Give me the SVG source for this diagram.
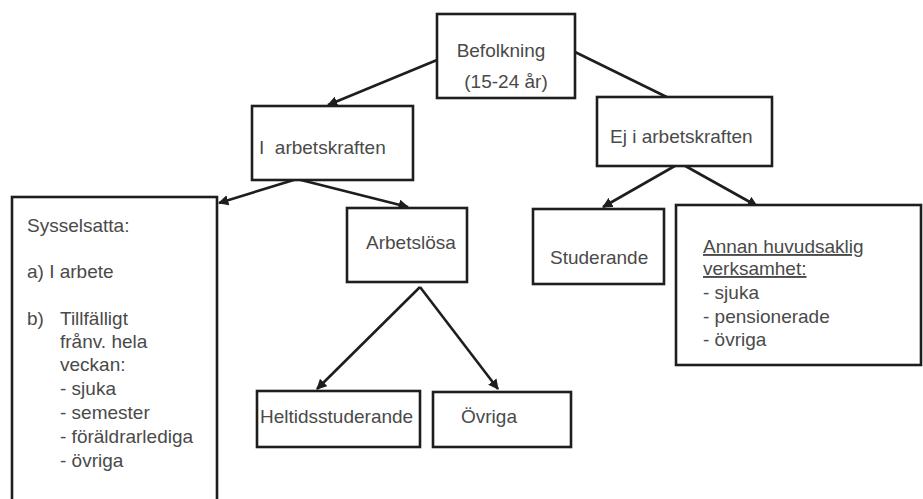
<svg xmlns="http://www.w3.org/2000/svg" width="923" height="499" viewBox="0 0 923 499">
<style>
.box{fill:#fff;stroke:#1e1e1e;stroke-width:2.6}
.t{font-family:"Liberation Sans",Arial,sans-serif;font-size:19px;fill:#4a4a4a}
.u{text-decoration:underline}
.c{fill:none;stroke:#1e1e1e;stroke-width:2.6}
</style>
<defs>
<marker id="ah" viewBox="0 0 10 10" refX="9" refY="5" markerWidth="4" markerHeight="4" orient="auto" markerUnits="strokeWidth">
<path d="M0,0 L10,5 L0,10 z" fill="#1e1e1e"/>
</marker>
</defs>
<rect width="923" height="499" fill="#fff"/>
<g id="connectors">
<line class="c" x1="437" y1="60" x2="328" y2="105" marker-end="url(#ah)"/>
<line class="c" x1="575" y1="52" x2="685" y2="106" marker-end="url(#ah)"/>
<line class="c" x1="297" y1="179" x2="219" y2="203" marker-end="url(#ah)"/>
<line class="c" x1="297" y1="179" x2="408" y2="207" marker-end="url(#ah)"/>
<line class="c" x1="680" y1="163" x2="603" y2="207" marker-end="url(#ah)"/>
<line class="c" x1="680" y1="163" x2="757" y2="206" marker-end="url(#ah)"/>
<line class="c" x1="420" y1="287" x2="317" y2="389" stroke-width="3.5" marker-end="url(#ah)"/>
<line class="c" x1="420" y1="287" x2="498" y2="389" marker-end="url(#ah)"/>
</g>
<g id="befolkning">
<rect class="box" x="437" y="14" width="138" height="84"/>
<text class="t" x="501" y="57" text-anchor="middle">Befolkning</text>
<text class="t" x="506" y="88" text-anchor="middle">(15-24 år)</text>
</g>
<g id="i-arbetskraften">
<rect class="box" x="252" y="106" width="161" height="74"/>
<text class="t" x="259" y="154" xml:space="preserve">I  arbetskraften</text>
</g>
<g id="ej-i-arbetskraften">
<rect class="box" x="597" y="97" width="175" height="69"/>
<text class="t" x="610" y="143">Ej i arbetskraften</text>
</g>
<g id="sysselsatta">
<rect class="box" x="12" y="197" width="205" height="310"/>
<text class="t" x="27" y="232">Sysselsatta:</text>
<text class="t" x="27" y="278">a) I arbete</text>
<text class="t" x="27" y="325">b)</text>
<text class="t" x="60" y="325">Tillfälligt</text>
<text class="t" x="60" y="348">frånv. hela</text>
<text class="t" x="60" y="371">veckan:</text>
<text class="t" x="60" y="395">- sjuka</text>
<text class="t" x="60" y="419">- semester</text>
<text class="t" x="60" y="443">- föräldrarlediga</text>
<text class="t" x="60" y="467">- övriga</text>
</g>
<g id="arbetslosa">
<rect class="box" x="347" y="208" width="120" height="74"/>
<text class="t" x="366" y="249">Arbetslösa</text>
</g>
<g id="studerande">
<rect class="box" x="533" y="209" width="131" height="75"/>
<text class="t" x="550" y="264">Studerande</text>
</g>
<g id="annan">
<rect class="box" x="676" y="205" width="245" height="160"/>
<text class="t u" x="703" y="253">Annan huvudsaklig</text>
<text class="t u" x="703" y="275">verksamhet:</text>
<text class="t" x="703" y="299">- sjuka</text>
<text class="t" x="703" y="323">- pensionerade</text>
<text class="t" x="703" y="346">- övriga</text>
</g>
<g id="heltidsstuderande">
<rect class="box" x="257" y="391" width="163" height="56"/>
<text class="t" x="260" y="423">Heltidsstuderande</text>
</g>
<g id="ovriga">
<rect class="box" x="433" y="392" width="138" height="55"/>
<text class="t" x="461" y="423">Övriga</text>
</g>
</svg>
